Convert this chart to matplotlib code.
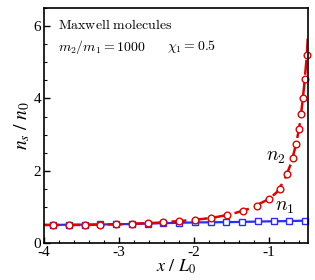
import matplotlib
matplotlib.use('Agg')
import matplotlib.pyplot as plt
from matplotlib.ticker import MultipleLocator

plt.rcParams['axes.unicode_minus'] = False

# n2 : circles (simulation) and dashed line (model)
x2_pts = [-3.88, -3.67, -3.46, -3.25, -3.04, -2.83, -2.62, -2.41, -2.2, -1.99,
          -1.77, -1.56, -1.35, -1.16, -1.0, -0.86, -0.76, -0.68, -0.64, -0.6,
          -0.573, -0.547, -0.52, -0.495]
n2_pts = [0.50, 0.50, 0.51, 0.51, 0.52, 0.53, 0.55, 0.58, 0.61, 0.64,
          0.69, 0.78, 0.89, 1.03, 1.23, 1.50, 1.92, 2.36, 2.75, 3.16,
          3.57, 4.00, 4.55, 5.20]
x2_line = [-4.0, -3.5, -3.0, -2.5, -2.0, -1.75, -1.5, -1.25, -1.0, -0.9,
           -0.8, -0.7, -0.64, -0.6, -0.56, -0.53, -0.5, -0.48]
n2_line = [0.50, 0.50, 0.52, 0.56, 0.64, 0.70, 0.80, 0.96, 1.22, 1.40,
           1.72, 2.24, 2.74, 3.16, 3.80, 4.40, 5.10, 5.80]

# n1 : squares and solid line
x1_pts = [-3.88, -3.67, -3.46, -3.25, -3.04, -2.83, -2.62, -2.41, -2.2, -1.99,
          -1.78, -1.57, -1.36, -1.15, -0.94, -0.73, -0.52]
n1_pts = [0.50, 0.51, 0.51, 0.52, 0.52, 0.53, 0.54, 0.55, 0.56, 0.57,
          0.58, 0.58, 0.59, 0.60, 0.60, 0.61, 0.62]
x1_line = [-4.0, -3.0, -2.0, -1.5, -1.0, -0.7, -0.48]
n1_line = [0.50, 0.52, 0.57, 0.58, 0.60, 0.61, 0.62]

fig = plt.figure(figsize=(3.15, 2.8), dpi=100)
ax = fig.add_axes([0.1397, 0.132, 0.8383, 0.839])

ax.plot(x1_line, n1_line, color='#2b2bff', lw=1.6)
ax.plot(x1_pts, n1_pts, ls='none', marker='s', ms=4.3, mfc='white',
        mec='#2b2bff', mew=1.0, clip_on=False)
ax.plot(x2_line, n2_line, color='#e00000', lw=1.8, dashes=(6, 2.5))
ax.plot(x2_pts, n2_pts, ls='none', marker='o', ms=4.8, mfc='white',
        mec='#e00000', mew=1.0, clip_on=False)

ax.set_xlim(-4, -0.48)
ax.set_ylim(0, 6.5)
ax.xaxis.set_major_locator(MultipleLocator(1))
ax.xaxis.set_minor_locator(MultipleLocator(0.2))
ax.yaxis.set_major_locator(MultipleLocator(2))
ax.yaxis.set_minor_locator(MultipleLocator(0.5))
ax.tick_params(which='both', direction='in', top=False, right=False,
               labelsize=11, pad=2)
ax.tick_params(which='major', length=4, width=1)
ax.tick_params(which='minor', length=2, width=0.8)
for lab in ax.get_xticklabels() + ax.get_yticklabels():
    lab.set_fontfamily('Liberation Serif')
for s in ax.spines.values():
    s.set_linewidth(1.2)

ax.set_xlabel(r'$x\ /\ L_{\mathit{0}}$', fontsize=13, math_fontfamily='stix',
              labelpad=-1)
ax.set_ylabel(r'$n_s\ /\ n_{\mathit{0}}$', fontsize=14, math_fontfamily='stix',
              labelpad=1)

ax.text(0.053, 0.93, r'$\mathrm{Maxwell\ molecules}$', transform=ax.transAxes,
        fontsize=10, math_fontfamily='cm', va='center')
ax.text(0.053, 0.835, r'$m_2/m_1=1000$', transform=ax.transAxes,
        fontsize=10, math_fontfamily='cm', va='center')
ax.text(0.465, 0.835, r'$\chi_1=0.5$', transform=ax.transAxes,
        fontsize=10, math_fontfamily='cm', va='center')
ax.text(-0.91, 2.39, r'$n_2$', fontsize=14, math_fontfamily='cm',
        ha='center', va='center')
ax.text(-0.79, 1.0, r'$n_1$', fontsize=14, math_fontfamily='cm',
        ha='center', va='center')

fig.savefig('out.png', dpi=100)
